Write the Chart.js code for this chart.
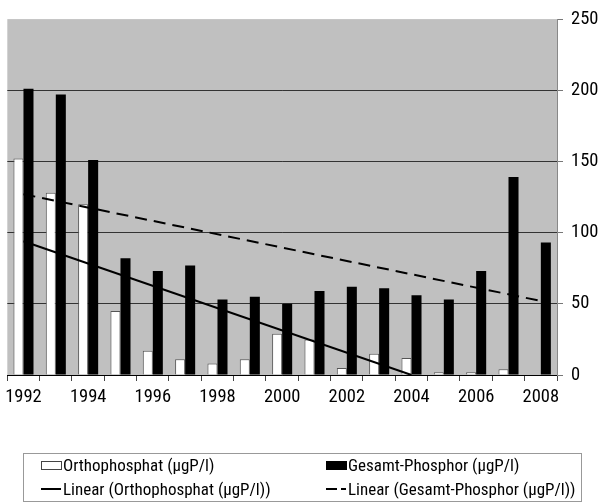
<!DOCTYPE html>
<html>
<head>
<meta charset="utf-8">
<script src="https://cdn.jsdelivr.net/npm/chart.js@4/dist/chart.umd.min.js"></script>
<style>
  body { margin: 0; background: #fff; }
  #wrap { position: relative; width: 600px; height: 502px; }
  #legend {
    position: absolute; left: 23px; top: 453px; width: 559px; height: 49px;
    border: 1px solid #999; box-sizing: border-box;
    font-family: "Roboto Condensed", "Roboto", sans-serif;
    font-size: 17px; color: #000;
  }
  .item { position: absolute; display: flex; align-items: center; white-space: nowrap; line-height: 20px; }
  .sw { width: 21px; height: 9px; box-sizing: border-box; margin-right: 1px; }
  .ln { width: 20px; height: 2px; background: #000; margin-right: 2px; }
</style>
</head>
<body>
<div id="wrap">
  <canvas id="chart" width="600" height="502"></canvas>
  <div id="legend">
    <div class="item" style="left:17px;top:1px"><div class="sw" style="background:#fff;border:1px solid #444"></div>Orthophosphat (µgP/l)</div>
    <div class="item" style="left:302px;top:1px"><div class="sw" style="background:#000"></div>Gesamt-Phosphor (µgP/l)</div>
    <div class="item" style="left:17px;top:25px"><div class="ln"></div>Linear (Orthophosphat (µgP/l))</div>
    <div class="item" style="left:302px;top:25px"><div class="ln" style="width:11px;margin-right:4px"></div><div class="ln" style="width:5px;margin-right:2px"></div>Linear (Gesamt-Phosphor (µgP/l))</div>
  </div>
</div>
<script>
const years = ['1992', '1993', '1994', '1995', '1996', '1997', '1998', '1999', '2000',
  '2001', '2002', '2003', '2004', '2005', '2006', '2007', '2008'];
const ortho = [152, 128, 120, 45, 17, 11, 8, 11, 29, 25, 5, 15, 12, 2, 2, 4, 0];
const gesamt = [201, 197, 151, 82, 73, 77, 53, 55, 50, 59, 62, 61, 56, 53, 73, 139, 93];
// trend line end points
const orthoTrend = [94, null, null, null, null, null, null, null, null, null, null, null, 0, null, null, null, null];
const gesamtTrend = [127, null, null, null, null, null, null, null, null, null, null, null, null, null, null, null, 52];

const fontFamily = '"Roboto Condensed", "Roboto", sans-serif';

const plotBg = {
  id: 'plotBg',
  beforeDraw(chart) {
    const { ctx, chartArea: a } = chart;
    ctx.save();
    ctx.fillStyle = '#c0c0c0';
    ctx.fillRect(a.left, a.top, a.right - a.left, a.bottom - a.top);
    ctx.restore();
  }
};

new Chart(document.getElementById('chart'), {
  type: 'bar',
  data: {
    labels: years,
    datasets: [
      {
        type: 'line', data: orthoTrend, spanGaps: true, order: 0,
        borderColor: '#000', borderWidth: 2, pointRadius: 0, fill: false
      },
      {
        type: 'line', data: gesamtTrend, spanGaps: true, order: 0,
        borderColor: '#000', borderWidth: 2, borderDash: [12, 7], pointRadius: 0, fill: false
      },
      {
        data: ortho, order: 1,
        backgroundColor: '#fff', borderColor: '#555', borderWidth: 1,
        categoryPercentage: 0.62, barPercentage: 1
      },
      {
        data: gesamt, order: 1,
        backgroundColor: '#000', borderColor: '#000', borderWidth: 0,
        categoryPercentage: 0.62, barPercentage: 1
      }
    ]
  },
  options: {
    responsive: false,
    animation: false,
    layout: { padding: { left: 7, top: 15, right: 0, bottom: 0 } },
    plugins: {
      legend: { display: false },
      tooltip: { enabled: false }
    },
    scales: {
      x: {
        offset: true,
        grid: { offset: true, drawOnChartArea: false, drawTicks: true, tickLength: 6, color: '#444' },
        border: { display: true, color: '#000', width: 1 },
        ticks: {
          autoSkip: false, maxRotation: 0, padding: 5, color: '#000',
          font: { family: fontFamily, size: 18.5 },
          callback: (v, i) => (i % 2 === 0 ? years[i] : '')
        },
        afterFit: (scale) => { scale.height = 127; }
      },
      y: {
        position: 'right',
        min: 0, max: 250,
        grid: {
          color: (c) => (c.tick && c.tick.value === 250 ? 'rgba(0,0,0,0)' : '#333'),
          tickColor: '#777', tickLength: 6, lineWidth: 1
        },
        border: { display: true, color: '#888', width: 1 },
        ticks: {
          stepSize: 50, padding: 8, color: '#000',
          font: { family: fontFamily, size: 18.5 }
        },
        afterFit: (scale) => { scale.width = 43; }
      }
    }
  },
  plugins: [plotBg]
});
</script>
</body>
</html>
